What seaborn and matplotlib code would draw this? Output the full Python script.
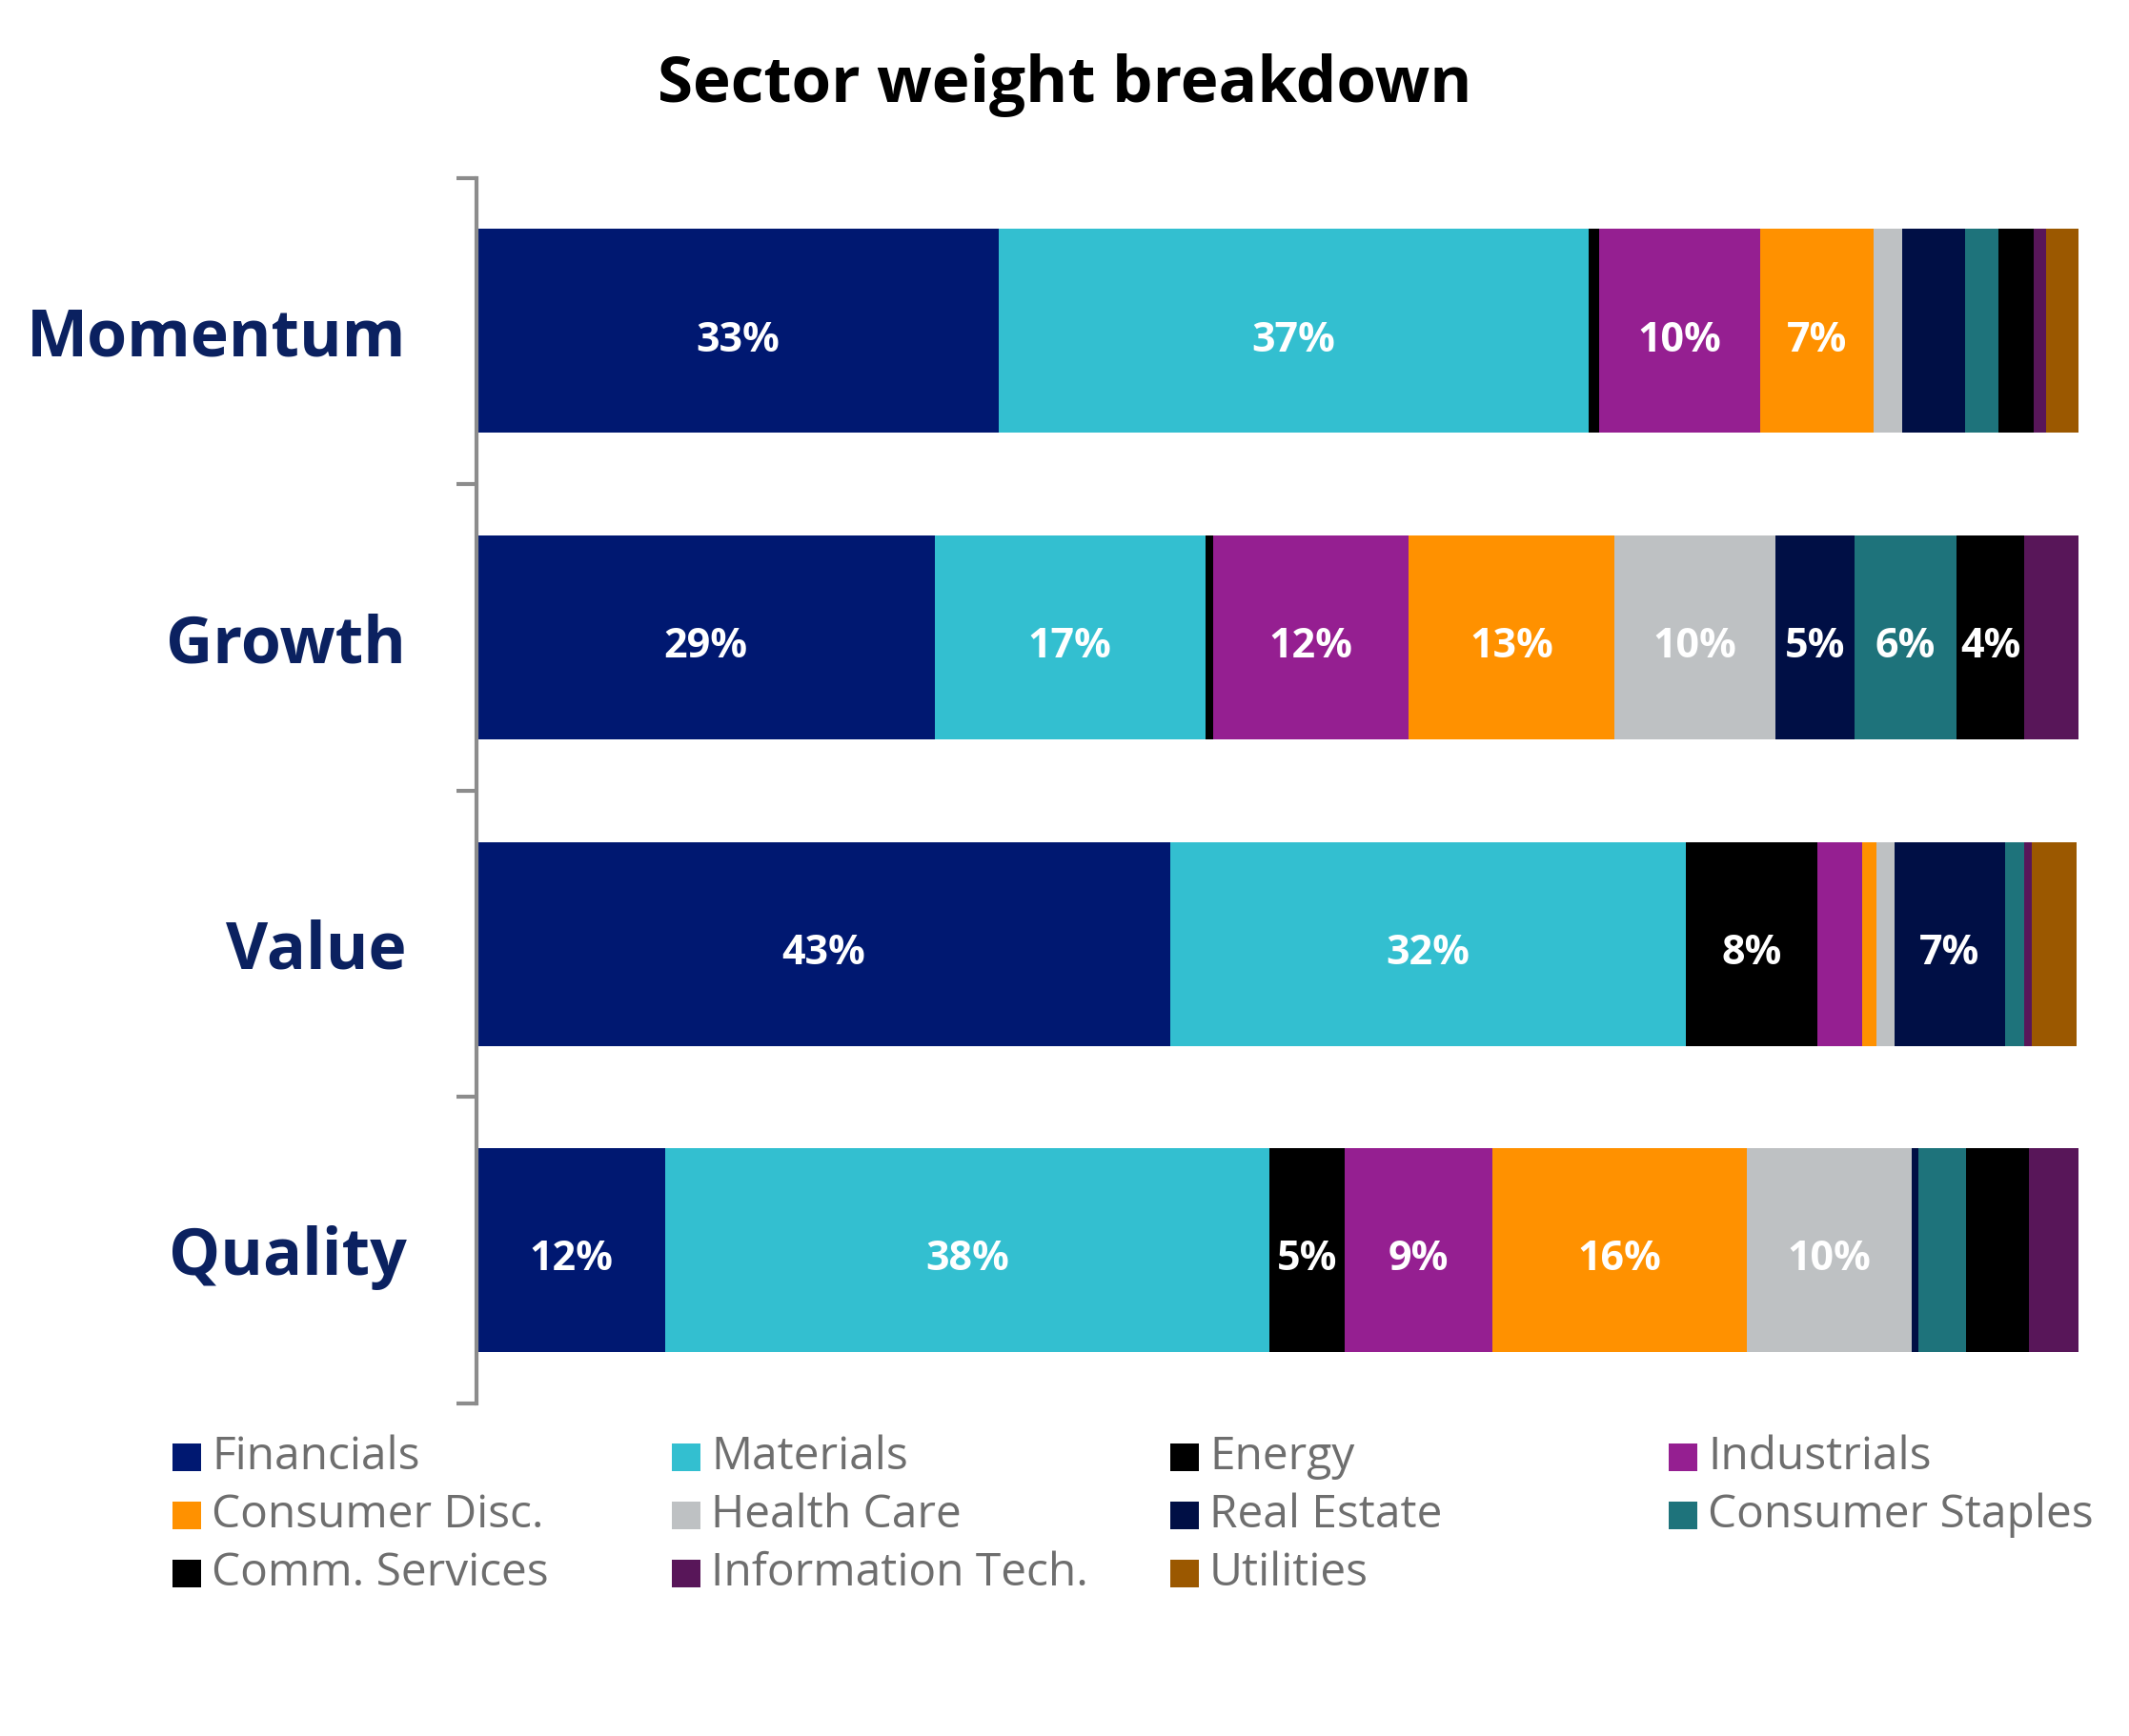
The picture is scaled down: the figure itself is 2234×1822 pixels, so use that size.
import numpy as np
import pandas as pd
import matplotlib
matplotlib.use("Agg")
import matplotlib.pyplot as plt
from matplotlib.patches import Rectangle
import seaborn as sns

# ---------------- data ----------------
factors = ["Momentum", "Growth", "Value", "Quality"]
sectors = ["Financials", "Materials", "Energy", "Industrials", "Consumer Disc.",
           "Health Care", "Real Estate", "Consumer Staples", "Comm. Services",
           "Information Tech.", "Utilities"]
momentum = [32.6, 36.8, 0.7, 10.0, 7.1, 1.8, 3.9, 2.1, 2.2, 0.8, 2.0]
growth   = [28.6, 16.9, 0.5, 12.2, 12.8, 10.1, 4.9, 6.4, 4.2, 3.6, 0.0]
value    = [43.3, 32.2, 8.2, 2.8, 0.9, 1.1, 6.9, 1.2, 0.0, 0.5, 2.8]
quality  = [11.8, 37.7, 4.7, 9.2, 15.9, 10.3, 0.4, 3.0, 3.9, 3.1, 0.0]
colors = ["#001871", "#33BFD0", "#000000", "#951F91", "#FF9100", "#BEC1C3",
          "#000F45", "#1E737B", "#000000", "#581659", "#9B5800"]

title = "Sector weight breakdown"

# ---------------- style ----------------
sns.set_theme(style="white")
plt.rcParams['font.family'] = ['Open Sans', 'DejaVu Sans']

vals = np.array([momentum, growth, value, quality])
cum = np.cumsum(vals, axis=1)

fig = plt.figure(figsize=(22.34, 18.22), dpi=100)
ax = fig.add_axes([0.2238, 0.1915, 0.9763 - 0.2238, 0.8976 - 0.1915])

# stacked horizontal bars: draw cumulative totals from last to first
for i in reversed(range(len(sectors))):
    df = pd.DataFrame({"factor": factors, "cum": cum[:, i]})
    sns.barplot(data=df, x="cum", y="factor", order=factors, orient="h",
                color=colors[i], saturation=1, width=0.665, linewidth=0,
                ax=ax)

# segment labels
for r in range(len(factors)):
    start = 0.0
    for i in range(len(sectors)):
        v = vals[r, i]
        if v >= 4.0:
            ax.text(start + v / 2, r + 0.03, f"{int(round(v))}%", ha="center",
                    va="center", color="white", fontsize=31,
                    fontweight="bold")
        start += v

ax.set_xlim(0, 100)
ax.set_ylim(3.5, -0.5)
ax.set_xlabel("")
ax.set_ylabel("")
ax.set_xticks([])
for s in ["top", "right", "bottom"]:
    ax.spines[s].set_visible(False)
ax.spines["left"].set_color("#8C8C8C")
ax.spines["left"].set_linewidth(3)

ax.set_yticks(range(len(factors)))
ax.set_yticklabels(factors, fontsize=49, fontweight="bold", color="#0B2160")
ax.tick_params(axis="y", which="major", length=0, pad=53)
ax.set_yticks([-0.5, 0.5, 1.5, 2.5, 3.5], minor=True)
ax.tick_params(axis="y", which="minor", length=15, width=3,
               color="#8C8C8C", left=True)

fig.text(0.5, 0.951, title, ha="center", va="center", fontsize=48.5,
         fontweight="bold", color="black")

# legend (row-wise, 4 equal columns)
W, H = 2234.0, 1822.0
col_x = [181, 705, 1228, 1751]
row_y = [1529, 1590, 1651]
for k, (name, c) in enumerate(zip(sectors, colors)):
    row, col = divmod(k, 4)
    x0 = col_x[col]
    yc = row_y[row]
    fig.add_artist(Rectangle((x0 / W, 1 - (yc + 14.5) / H), 30 / W, 29 / H,
                             transform=fig.transFigure, facecolor=c,
                             edgecolor="none"))
    fig.text((x0 + 41) / W, 1 - yc / H, name, ha="left", va="center",
             fontsize=34.5, color="#6E6E6E")

fig.savefig("out.png", dpi=100, facecolor="white")
